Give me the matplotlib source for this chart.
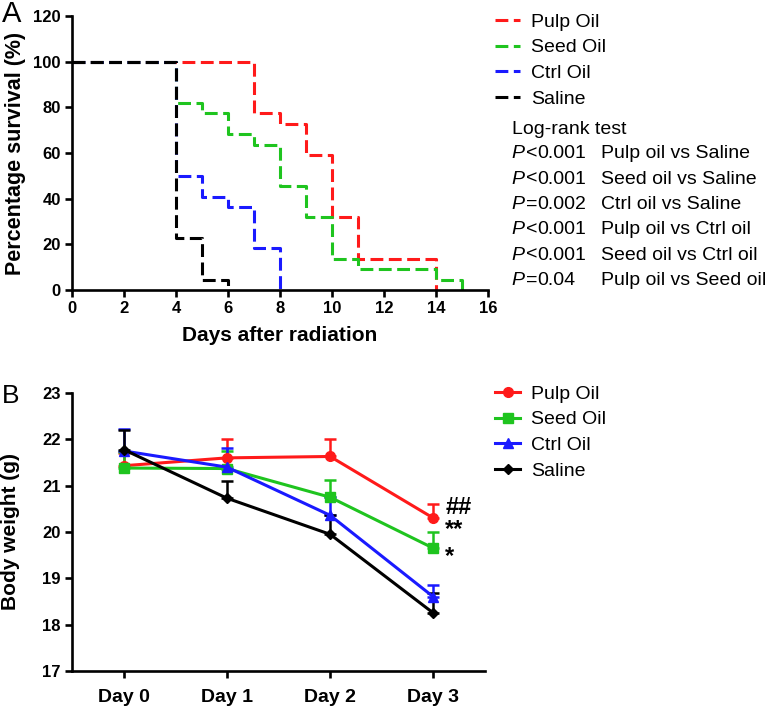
import numpy as np
import matplotlib
matplotlib.use("Agg")
import matplotlib.pyplot as plt

plt.rcParams['font.family'] = ['Liberation Sans', 'DejaVu Sans']

# ---- Panel A: survival (Kaplan-Meier steps) ----
pulp_t = [0, 4, 7, 8, 9, 10, 11, 14]
pulp_s = [100, 100, 77.3, 72.7, 59.1, 31.8, 13.6, 0]
seed_t = [0, 4, 5, 6, 7, 8, 9, 10, 11, 14, 15]
seed_s = [100, 81.8, 77.3, 68.2, 63.6, 45.5, 31.8, 13.6, 9.1, 4.5, 0]
ctrl_t = [0, 4, 5, 6, 7, 8]
ctrl_s = [100, 50, 40.9, 36.4, 18.2, 0]
sal_t = [0, 4, 5, 6]
sal_s = [100, 22.7, 4.5, 0]

grupos = ["Pulp Oil", "Seed Oil", "Ctrl Oil", "Saline"]
colores = ["#ff1a1a", "#1fc41f", "#1a1aff", "#000000"]

logrank = [("<", "0.001", "Pulp oil vs Saline"),
           ("<", "0.001", "Seed oil vs Saline"),
           ("=", "0.002", "Ctrl oil vs Saline"),
           ("<", "0.001", "Pulp oil vs Ctrl oil"),
           ("<", "0.001", "Seed oil vs Ctrl oil"),
           ("=", "0.04", "Pulp oil vs Seed oil")]

# ---- Panel B: body weight ----
dias = ["Day 0", "Day 1", "Day 2", "Day 3"]
pulp_w = [21.43, 21.60, 21.63, 20.30]
pulp_e = [0.28, 0.40, 0.37, 0.30]
seed_w = [21.38, 21.37, 20.75, 19.65]
seed_e = [0.35, 0.38, 0.37, 0.35]
ctrl_w = [21.75, 21.40, 20.36, 18.60]
ctrl_e = [0.48, 0.42, 0.40, 0.25]
sal_w = [21.78, 20.73, 19.95, 18.25]
sal_e = [0.43, 0.37, 0.42, 0.43]
marcas = ["o", "s", "^", "D"]
signif = ["##", "**", "*"]
signif_y = [20.39, 19.92, 19.33]  # baseline de cada marca

W, H = 774, 710
fig = plt.figure(figsize=(W / 100, H / 100), dpi=100)

def fx(x):
    return x / W

def fy(y):
    return 1 - y / H

LW = 1.9
TICKFS = 12

def estilo(ax):
    for s in ["top", "right"]:
        ax.spines[s].set_visible(False)
    for s in ["left", "bottom"]:
        ax.spines[s].set_linewidth(LW)
    ax.tick_params(width=LW, length=5, labelsize=TICKFS, pad=3)
    for lab in ax.get_xticklabels() + ax.get_yticklabels():
        lab.set_fontweight("bold")

# ---------- A ----------
axA = fig.add_axes([fx(72), fy(290), fx(488) - fx(72), fy(16) - fy(290)])
tiempos = [pulp_t, seed_t, ctrl_t, sal_t]
surv = [pulp_s, seed_s, ctrl_s, sal_s]
lineasA = []
for t, s, c, g in zip(tiempos, surv, colores, grupos):
    l, = axA.step(t, s, where="post", color=c, lw=2.2, dashes=(4.2, 1.8), label=g)
    lineasA.append(l)
axA.set_xlim(0, 16)
axA.set_ylim(0, 120)
axA.set_xticks(np.arange(0, 17, 2))
axA.set_yticks(np.arange(0, 121, 20))
estilo(axA)
axA.set_xlabel("Days after radiation", fontsize=15, fontweight="bold", labelpad=7)
axA.set_ylabel("Percentage survival (%)", fontsize=15.5, fontweight="bold")
axA.yaxis.set_label_coords(-0.11, 0.5)

LEGFS = 14
fig.legend(handles=lineasA, labels=grupos, loc="upper left",
           bbox_to_anchor=(fx(495), fy(13)),
           frameon=False, fontsize=LEGFS, handlelength=1.3, handletextpad=0.55,
           labelspacing=0.42, borderaxespad=0, borderpad=0)

fig.text(fx(512), fy(129), "Log-rank test", fontsize=LEGFS, va="center")
for i, (op, val, nombre) in enumerate(logrank):
    y = fy(154 + i * 25.3)
    fig.text(fx(511), y, "P", fontsize=LEGFS, style="italic", va="center")
    fig.text(fx(526), y, op, fontsize=LEGFS, va="center")
    fig.text(fx(537), y, val, fontsize=LEGFS, va="center")
    fig.text(fx(601), y, nombre, fontsize=LEGFS, va="center")

fig.text(fx(2), fy(0), "A", fontsize=21, va="top")

# ---------- B ----------
axB = fig.add_axes([fx(72), fy(671), fx(485) - fx(72), fy(393) - fy(671)])
x = np.arange(len(dias))
pesos = [pulp_w, seed_w, ctrl_w, sal_w]
errs = [pulp_e, seed_e, ctrl_e, sal_e]
lineasB = []
for w, e, c, m, g in zip(pesos, errs, colores, marcas, grupos):
    ms = {"o": 7, "s": 6.5, "^": 7.5, "D": 5.5}[m]
    eb = axB.errorbar(x, w, yerr=[np.zeros(len(e)), e], color=c, marker=m, ms=ms,
                      lw=2.2, elinewidth=1.8, capsize=4, capthick=1.8, label=g)
    lineasB.append(eb.lines[0])
axB.set_xlim(-0.5, 3.5)
axB.set_ylim(17, 23)
axB.set_xticks(x)
axB.set_xticklabels(dias)
axB.set_yticks(np.arange(17, 24, 1))
estilo(axB)
axB.tick_params(axis="x", labelsize=14, pad=8)
for lab in axB.get_xticklabels():
    lab.set_fontweight("bold")
axB.set_ylabel("Body weight (g)", fontsize=15, fontweight="bold")
axB.yaxis.set_label_coords(-0.125, 0.5)

for txt, yy in zip(signif, signif_y):
    axB.text(3.115, yy, txt, fontsize=17, fontweight="bold", va="baseline", ha="left")

fig.legend(handles=lineasB, labels=grupos, loc="upper left",
           bbox_to_anchor=(fx(495), fy(385)),
           frameon=False, fontsize=LEGFS, handlelength=1.3, handletextpad=0.55,
           labelspacing=0.42, borderaxespad=0, borderpad=0)

fig.text(fx(2), fy(396), "B", fontsize=19, va="center")

fig.savefig("out.png", dpi=100)
